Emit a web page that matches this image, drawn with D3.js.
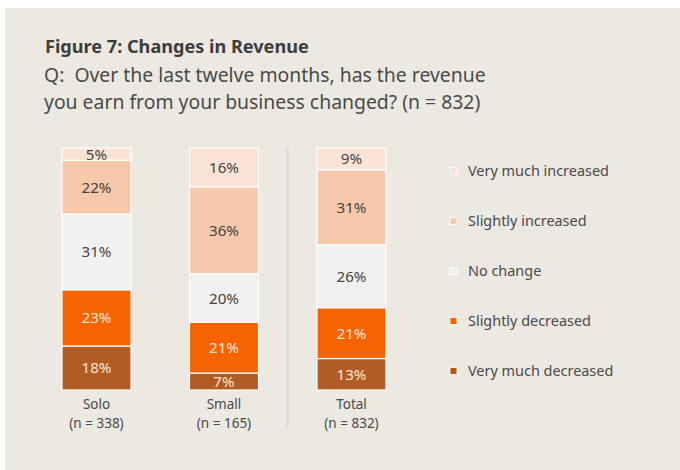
<!DOCTYPE html>
<html><head><meta charset="utf-8">
<script src="https://cdn.jsdelivr.net/npm/d3@7"></script>
<style>
html,body{margin:0;padding:0;background:#fff;}
svg{display:block;font-family:"Noto Sans","Open Sans",sans-serif;}
</style></head>
<body>
<svg id="chart" width="680" height="470"></svg>
<script>
const categories = ["Solo", "Small", "Total"];
const sampleLabels = ["(n = 338)", "(n = 165)", "(n = 832)"];
const seriesNames = ["Very much decreased", "Slightly decreased", "No change", "Slightly increased", "Very much increased"];
const veryMuchDecreased = [18, 7, 13];
const slightlyDecreased = [23, 21, 21];
const noChange = [31, 20, 26];
const slightlyIncreased = [22, 36, 31];
const veryMuchIncreased = [5, 16, 9];
const colors = ["#b25b22", "#f76300", "#f2f1f0", "#f8c8aa", "#fce3d5"];
const textColors = ["#fbe6d8", "#fde7d9", "#444444", "#444444", "#444444"];

const seriesValues = [veryMuchDecreased, slightlyDecreased, noChange, slightlyIncreased, veryMuchIncreased];
const table = categories.map((c, i) => {
  const row = {category: c};
  seriesNames.forEach((s, j) => row[s] = seriesValues[j][i]);
  return row;
});

// fit a font size so that a sample string reaches a target width
function fitSize(str, weight, target) {
  const t = svg.append("text").attr("font-size", 20).attr("font-weight", weight)
    .attr("xml:space", "preserve").text(str);
  const w = t.node().getComputedTextLength();
  t.remove();
  return 20 * target / w;
}

const svg = d3.select("#chart");
svg.append("rect").attr("x", 5).attr("y", 8).attr("width", 675).attr("height", 462).attr("fill", "#ece9e3");

const titleSize = fitSize("Figure 7: Changes in Revenue", "bold", 264);
const subSize = fitSize("Q:  Over the last twelve months, has the revenue", "normal", 442);
const valSize = fitSize("22%", "normal", 30);
const catSize = 13.5;
const legSize = fitSize("Very much increased", "normal", 141);

svg.append("text").attr("x", 45).attr("y", 53).attr("fill", "#3d3d3d")
  .attr("font-size", titleSize).attr("font-weight", "bold").text("Figure 7: Changes in Revenue");
svg.append("text").attr("x", 44).attr("y", 82).attr("fill", "#4a4a4a")
  .attr("font-size", subSize).attr("xml:space", "preserve").text("Q:  Over the last twelve months, has the revenue");
svg.append("text").attr("x", 44).attr("y", 109).attr("fill", "#4a4a4a")
  .attr("font-size", subSize).text("you earn from your business changed? (n = 832)");

const x = d3.scaleBand().domain(categories).range([62, 386]).paddingInner(0.4588).paddingOuter(0);
const y = d3.scaleLinear().domain([0, 1]).range([390, 148]);
const color = d3.scaleOrdinal().domain(seriesNames).range(colors);
const tcolor = d3.scaleOrdinal().domain(seriesNames).range(textColors);

const stack = d3.stack().keys(seriesNames).offset(d3.stackOffsetExpand);
const stacked = stack(table);

const g = svg.append("g");
const layers = g.selectAll("g.layer").data(stacked).join("g").attr("class", "layer");
layers.selectAll("rect").data(d => d.map(p => ({p, key: d.key}))).join("rect")
  .attr("x", d => x(d.p.data.category))
  .attr("width", x.bandwidth())
  .attr("y", d => y(d.p[1]))
  .attr("height", d => y(d.p[0]) - y(d.p[1]))
  .attr("fill", d => color(d.key))
  .attr("stroke", "#ffffff").attr("stroke-width", 1.2);
layers.selectAll("text").data(d => d.map(p => ({p, key: d.key}))).join("text")
  .attr("x", d => x(d.p.data.category) + x.bandwidth() / 2)
  .attr("y", d => (y(d.p[0]) + y(d.p[1])) / 2 + valSize * 0.36)
  .attr("text-anchor", "middle").attr("font-size", valSize)
  .attr("fill", d => tcolor(d.key))
  .text(d => d.p.data[d.key] + "%");

// divider between Small and Total
const divX = (x("Small") + x.bandwidth() + x("Total")) / 2;
svg.append("line").attr("x1", divX).attr("x2", divX).attr("y1", 148).attr("y2", 427)
  .attr("stroke", "#dcd9d3").attr("stroke-width", 2);

// category axis labels
const axis = svg.append("g");
categories.forEach((c, i) => {
  const cx = x(c) + x.bandwidth() / 2;
  axis.append("text").attr("x", cx).attr("y", 408.5).attr("text-anchor", "middle")
    .attr("font-size", catSize).attr("fill", "#4a4a4a").text(c);
  axis.append("text").attr("x", cx).attr("y", 427.5).attr("text-anchor", "middle")
    .attr("font-size", catSize).attr("fill", "#4a4a4a").text(sampleLabels[i]);
});

// legend
const legendOrder = seriesNames.slice().reverse();
const ly = d3.scalePoint().domain(legendOrder).range([171, 371]);
const lg = svg.append("g").selectAll("g").data(legendOrder).join("g")
  .attr("transform", d => `translate(0,${ly(d)})`);
lg.append("rect").attr("x", 450).attr("y", -3.5).attr("width", 7).attr("height", 7)
  .attr("fill", d => color(d)).attr("stroke", "#ffffff").attr("stroke-width", 0.8);
lg.append("text").attr("x", 468).attr("y", legSize * 0.36).attr("font-size", legSize)
  .attr("fill", "#4a4a4a").text(d => d);
</script>
</body></html>
